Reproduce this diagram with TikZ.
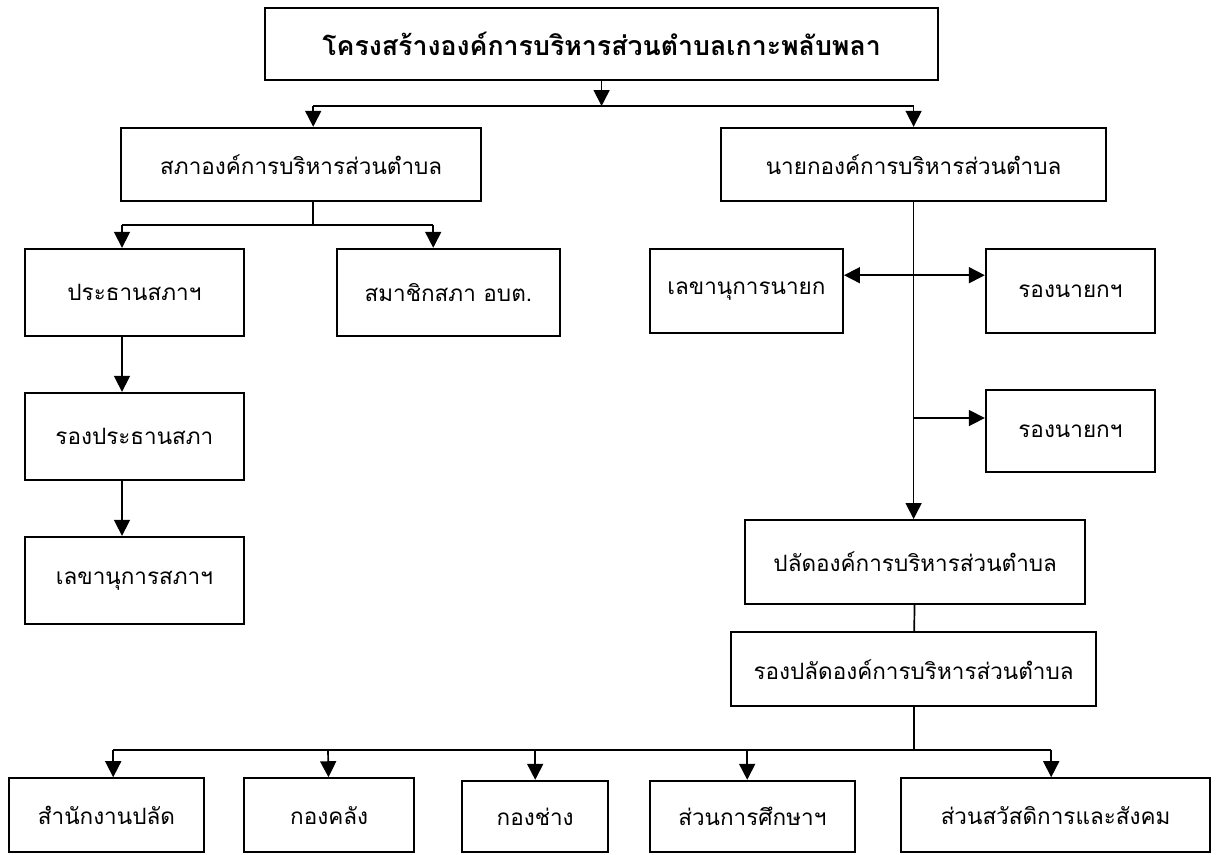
\documentclass[tikz,border=0pt]{standalone}
\usepackage{fontspec}
\newfontfamily\thaifont[Script=Thai]{Loma}
\usetikzlibrary{arrows.meta}
\begin{document}
\begin{tikzpicture}[
  box/.style={draw, line width=1.4pt, inner sep=0pt, font=\thaifont\fontsize{16}{20}\selectfont},
  arr/.style={line width=1.2pt, -{Triangle[length=0.4cm,width=0.4cm]}},
  biarr/.style={line width=1.2pt, {Triangle[length=0.4cm,width=0.4cm]}-{Triangle[length=0.4cm,width=0.4cm]}},
  ln/.style={line width=1.2pt}]
\useasboundingbox[fill=white] (0,0) rectangle (30.425,-21.35);
\node[box, minimum width=16.83cm, minimum height=1.8cm, font=\thaifont\bfseries\fontsize{19}{24}\selectfont] (title) at (15.04,-1.1) {โครงสร้างองค์การบริหารส่วนตำบลเกาะพลับพลา};
\node[box, minimum width=9cm, minimum height=1.83cm] (sapha) at (7.53,-4.11) {สภาองค์การบริหารส่วนตำบล};
\node[box, minimum width=9.63cm, minimum height=1.83cm] (nayok) at (22.84,-4.11) {นายกองค์การบริหารส่วนตำบล};
\node[box, minimum width=5.48cm, minimum height=2.18cm] (prathan) at (3.36,-7.31) {ประธานสภาฯ};
\node[box, minimum width=5.58cm, minimum height=2.18cm] (samachik) at (11.21,-7.31) {สมาชิกสภา อบต.};
\node[box, minimum width=5.48cm, minimum height=2.18cm] (rongprathan) at (3.36,-10.91) {รองประธานสภา};
\node[box, minimum width=5.48cm, minimum height=2.18cm] (lekhasapha) at (3.36,-14.51) {เลขานุการสภาฯ};
\node[box, minimum width=4.83cm, minimum height=2.1cm] (lekhanayok) at (18.66,-7.28) {เลขานุการนายก};
\node[box, minimum width=4.23cm, minimum height=2.1cm] (rongnayoka) at (26.76,-7.28) {รองนายกฯ};
\node[box, minimum width=4.23cm, minimum height=2.05cm] (rongnayokb) at (26.76,-10.78) {รองนายกฯ};
\node[box, minimum width=8.5cm, minimum height=2.1cm] (palad) at (22.88,-14.05) {ปลัดองค์การบริหารส่วนตำบล};
\node[box, minimum width=9.13cm, minimum height=1.85cm] (rongpalad) at (22.84,-16.73) {รองปลัดองค์การบริหารส่วนตำบล};
\node[box, minimum width=4.88cm, minimum height=1.85cm] (samnak) at (2.66,-20.38) {สำนักงานปลัด};
\node[box, minimum width=4.25cm, minimum height=1.85cm] (klang) at (8.23,-20.38) {กองคลัง};
\node[box, minimum width=3.65cm, minimum height=1.78cm] (chang) at (13.38,-20.41) {กองช่าง};
\node[box, minimum width=5.13cm, minimum height=1.78cm] (suksa) at (18.81,-20.41) {ส่วนการศึกษาฯ};
\node[box, minimum width=7.73cm, minimum height=1.85cm] (sawat) at (26.39,-20.38) {ส่วนสวัสดิการและสังคม};
\coordinate (busa) at (15.04,-2.65);
\coordinate (busal) at (7.83,-2.65);
\coordinate (busar) at (22.84,-2.65);
\draw[arr](title) -- (busa);
\draw[ln](busal) -- (busar);
\draw[arr](busal) -- (busal |- sapha.north);
\draw[arr](busar) -- (nayok);
\coordinate (busb) at (7.83,-5.63);
\coordinate (busbl) at (3.05,-5.63);
\coordinate (busbr) at (10.83,-5.63);
\draw[ln](sapha.south -| busb) -- (busb);
\draw[ln](busbl) -- (busbr);
\draw[arr](busbl) -- (busbl |- prathan.north);
\draw[arr](busbr) -- (busbr |- samachik.north);
\draw[arr](prathan.south -| busbl) -- (rongprathan.north -| busbl);
\draw[arr](rongprathan.south -| busbl) -- (lekhasapha.north -| busbl);
\draw[arr](nayok) -- (nayok.south |- palad.north);
\coordinate (nya) at (22.85,-6.88);
\coordinate (nyb) at (22.85,-10.45);
\draw[biarr](lekhanayok.east |- nya) -- (rongnayoka.west |- nya);
\draw[arr](nyb) -- (rongnayokb.west |- nyb);
\draw[ln](palad) -- (rongpalad);
\coordinate (busc) at (22.85,-18.75);
\coordinate (buscl) at (2.83,-18.75);
\coordinate (buscr) at (26.28,-18.75);
\draw[ln](rongpalad.south -| busc) -- (busc);
\draw[ln](buscl) -- (buscr);
\draw[arr](buscl) -- (buscl |- samnak.north);
\draw[arr](8.2,-18.75) -- (klang);
\draw[arr](13.38,-18.75) -- (chang);
\draw[arr](18.68,-18.75) -- (18.68,0 |- suksa.north);
\draw[arr](buscr) -- (buscr |- sawat.north);
\end{tikzpicture}
\end{document}
